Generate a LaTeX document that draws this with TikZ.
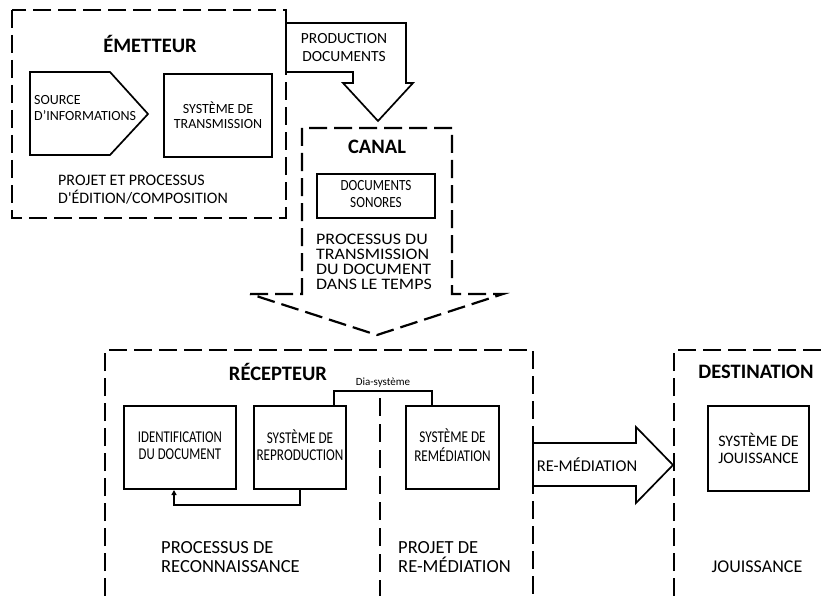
\documentclass[tikz,border=0pt]{standalone}
\usepackage{graphicx}
\usepackage{fontspec}
\setmainfont{Carlito}
\usetikzlibrary{calc,arrows.meta}
\newcommand{\condtxt}[2]{\scalebox{#1}[1]{\begin{tabular}{@{}c@{}}#2\end{tabular}}}
\begin{document}
\begin{tikzpicture}[x=1pt,y=-1pt,
  dbox/.style={draw, line width=2.2pt, dash pattern=on 18pt off 7pt},
  ddot/.style={draw, line width=2pt, dash pattern=on 18pt off 8pt},
  sline/.style={draw, line width=1.7pt, line join=miter},
  sbox/.style={draw, line width=2pt, inner sep=0pt, anchor=north west, align=center},
  ttl/.style={font=\fontsize{20.5}{24}\selectfont\bfseries, inner sep=0pt},
  txt/.style={inner sep=0pt, align=left, anchor=west}
]
\useasboundingbox (0,0) rectangle (826,596);

% ---------- EMETTEUR ----------
\draw[dbox] (12,10) rectangle (286,218);
\node[ttl] (emt) at (150,44) {ÉMETTEUR};
\draw[sline] (30,72) -- (110,72) -- (148,114) -- (110,155) -- (30,155) -- cycle;
\coordinate (srcc) at (34,108);
\node[txt, font=\fontsize{14}{16}\selectfont] (src) at (srcc) {SOURCE\\D’INFORMATIONS};
\node[sbox, minimum width=108pt, minimum height=83pt, font=\fontsize{14}{15}\selectfont] (trans) at (163,73) {SYSTÈME DE\\TRANSMISSION};
\node[txt, font=\fontsize{16}{18}\selectfont] (projet) at (58,190) {PROJET ET PROCESSUS\\D\textquotesingle ÉDITION/COMPOSITION};

% ---------- PRODUCTION arrow ----------
\draw[sline, fill=white] (286,23) -- (406,23) -- (406,83) -- (413,83) -- (378,121) -- (343,83) -- (353,83) -- (353,72) -- (286,72) -- cycle;
\node[font=\fontsize{15.5}{18}\selectfont, align=center, inner sep=0pt] (prod) at (344,48) {PRODUCTION\\DOCUMENTS};

% ---------- CANAL ----------
\draw[dbox] (250,294) -- (302,294) -- (302,128) -- (452,128) -- (452,294) -- (503,294) -- (377,335) -- cycle;
\node[ttl] (canal) at (377,147) {CANAL};
\node[sbox, minimum width=118pt, minimum height=44pt, font=\fontsize{15.5}{17}\selectfont] (docs) at (316,173) {\condtxt{0.85}{DOCUMENTS\\SONORES}};
\node[txt, font=\fontsize{16}{15.2}\selectfont] (ptrans) at (316,264) {\scalebox{1.12}[1]{\begin{tabular}{@{}l@{}}PROCESSUS DU\\TRANSMISSION\\DU DOCUMENT\\DANS LE TEMPS\end{tabular}}};

% ---------- RECEPTEUR ----------
\draw[dbox] (105,596) -- (105,350) -- (533,350) -- (533,596);
\node[ttl] (rec) at (278,372) {RÉCEPTEUR};
\node[sbox, minimum width=112pt, minimum height=83pt, font=\fontsize{16.5}{17}\selectfont] (ident) at (123,405) {\condtxt{0.78}{IDENTIFICATION\\DU DOCUMENT}};
\node[sbox, minimum width=92pt, minimum height=83pt, font=\fontsize{16.5}{17}\selectfont] (repro) at (253,405) {\condtxt{0.8}{SYSTÈME DE\\REPRODUCTION}};
\node[sbox, minimum width=93pt, minimum height=83pt, font=\fontsize{16.5}{17}\selectfont] (remed) at (405,405) {\condtxt{0.8}{SYSTÈME DE\\REMÉDIATION}};
\draw[ddot] (380,398) -- (380,596);
\draw[sline] ($(repro.north east)+(-13,0)$) -- ++(0,-14) -| ($(remed.north west)+(27,0)$);
\node[font=\fontsize{11}{12}\selectfont, inner sep=0pt] (dia) at (383,383) {Dia-système};
\draw[sline, -{Triangle[length=5pt,width=5pt]}] (repro.south) -- ++(0,15) -| ($(ident.south)+(-6,0)$);
\node[txt, font=\fontsize{18.5}{19}\selectfont] (preco) at (161,557) {PROCESSUS DE\\RECONNAISSANCE};
\node[txt, font=\fontsize{18.5}{19}\selectfont] (premed) at (398,557) {PROJET DE\\RE-MÉDIATION};

% ---------- RE-MEDIATION arrow ----------
\draw[sline, fill=white] (533,443) -- (636,443) -- (636,427) -- (673,465) -- (636,503) -- (636,486) -- (533,486) -- cycle;
\node[font=\fontsize{16.5}{18}\selectfont, inner sep=0pt] (rmed) at (587,465) {RE-MÉDIATION};

% ---------- DESTINATION ----------
\draw[dbox] (674,596) -- (674,350) -- (826,350);
\node[ttl] (dest) at (756,372) {DESTINATION};
\node[sbox, minimum width=101pt, minimum height=85pt, font=\fontsize{16}{17}\selectfont] (jouis) at (707,405) {SYSTÈME DE\\JOUISSANCE};
\node[font=\fontsize{18}{20}\selectfont, inner sep=0pt] (jou) at (757,567) {JOUISSANCE};
\end{tikzpicture}
\end{document}
